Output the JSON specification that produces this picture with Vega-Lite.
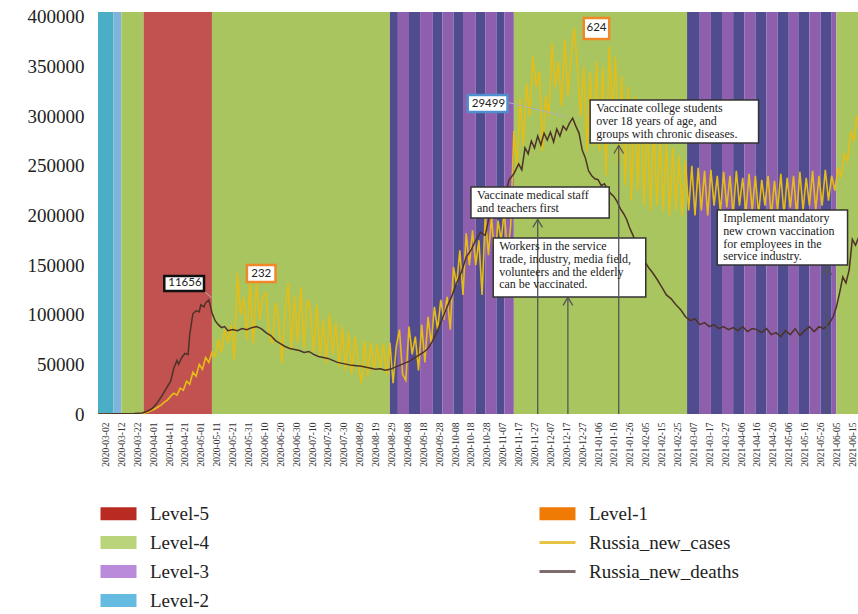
{
  "$schema": "https://vega.github.io/schema/vega-lite/v6.json",
  "width": 760,
  "height": 402,
  "autosize": {"type": "none"},
  "padding": {"left": 98, "top": 12, "right": 0, "bottom": 200},
  "background": "white",
  "config": {"view": {"stroke": null}, "axis": {"labelOverlap": false}, "axisX": {"labelOverlap": false, "labelBound": false}},
  "datasets": {
    "bands": [
      {"start":"2020-02-20","end":"2020-03-07","level":"Level-2"},
      {"start":"2020-03-07","end":"2020-03-12","level":"Level-2b"},
      {"start":"2020-03-12","end":"2020-03-26","level":"Level-4"},
      {"start":"2020-03-26","end":"2020-05-08","level":"Level-5"},
      {"start":"2020-05-08","end":"2020-08-28","level":"Level-4"},
      {"start":"2020-08-28","end":"2020-09-02","level":"Level-3b"},
      {"start":"2020-09-02","end":"2020-09-09","level":"Level-3"},
      {"start":"2020-09-09","end":"2020-09-16","level":"Level-3b"},
      {"start":"2020-09-16","end":"2020-09-24","level":"Level-3"},
      {"start":"2020-09-24","end":"2020-09-30","level":"Level-3b"},
      {"start":"2020-09-30","end":"2020-10-07","level":"Level-3"},
      {"start":"2020-10-07","end":"2020-10-13","level":"Level-3b"},
      {"start":"2020-10-13","end":"2020-10-21","level":"Level-3"},
      {"start":"2020-10-21","end":"2020-10-27","level":"Level-3b"},
      {"start":"2020-10-27","end":"2020-11-03","level":"Level-3"},
      {"start":"2020-11-03","end":"2020-11-08","level":"Level-3b"},
      {"start":"2020-11-08","end":"2020-11-14","level":"Level-3"},
      {"start":"2020-11-14","end":"2021-03-03","level":"Level-4"},
      {"start":"2021-03-03","end":"2021-03-11","level":"Level-3b"},
      {"start":"2021-03-11","end":"2021-03-18","level":"Level-3"},
      {"start":"2021-03-18","end":"2021-03-25","level":"Level-3b"},
      {"start":"2021-03-25","end":"2021-04-01","level":"Level-3"},
      {"start":"2021-04-01","end":"2021-04-08","level":"Level-3b"},
      {"start":"2021-04-08","end":"2021-04-15","level":"Level-3"},
      {"start":"2021-04-15","end":"2021-04-22","level":"Level-3b"},
      {"start":"2021-04-22","end":"2021-04-29","level":"Level-3"},
      {"start":"2021-04-29","end":"2021-05-06","level":"Level-3b"},
      {"start":"2021-05-06","end":"2021-05-12","level":"Level-3"},
      {"start":"2021-05-12","end":"2021-05-19","level":"Level-3b"},
      {"start":"2021-05-19","end":"2021-05-26","level":"Level-3"},
      {"start":"2021-05-26","end":"2021-06-02","level":"Level-3b"},
      {"start":"2021-06-02","end":"2021-06-05","level":"Level-3"},
      {"start":"2021-06-05","end":"2021-06-25","level":"Level-4"}
    ],
    "cases": [
      {"date":"2020-02-26","value":0},{"date":"2020-03-10","value":0},{"date":"2020-03-23","value":0},
      {"date":"2020-03-25","value":500},{"date":"2020-03-27","value":1000},{"date":"2020-03-29","value":2000},
      {"date":"2020-03-31","value":3500},{"date":"2020-04-02","value":5000},{"date":"2020-04-04","value":7000},
      {"date":"2020-04-06","value":9000},{"date":"2020-04-08","value":12000},{"date":"2020-04-10","value":14000},
      {"date":"2020-04-12","value":18000},{"date":"2020-04-14","value":21000},{"date":"2020-04-16","value":19000},
      {"date":"2020-04-18","value":26000},{"date":"2020-04-20","value":24000},{"date":"2020-04-22","value":33000},
      {"date":"2020-04-24","value":30000},{"date":"2020-04-26","value":42000},{"date":"2020-04-28","value":38000},
      {"date":"2020-04-30","value":50000},{"date":"2020-05-02","value":45000},{"date":"2020-05-04","value":57000},
      {"date":"2020-05-06","value":52000},{"date":"2020-05-08","value":62000},{"date":"2020-05-10","value":58000},
      {"date":"2020-05-12","value":75000},{"date":"2020-05-14","value":62000},{"date":"2020-05-16","value":85000},
      {"date":"2020-05-18","value":72000},{"date":"2020-05-20","value":90000},{"date":"2020-05-22","value":54000},
      {"date":"2020-05-24","value":142000},{"date":"2020-05-26","value":100000},{"date":"2020-05-28","value":118000},
      {"date":"2020-05-30","value":75000},{"date":"2020-06-01","value":135000},{"date":"2020-06-03","value":71000},
      {"date":"2020-06-05","value":132000},{"date":"2020-06-07","value":95000},{"date":"2020-06-09","value":118000},
      {"date":"2020-06-11","value":122000},{"date":"2020-06-13","value":80000},{"date":"2020-06-15","value":71000},
      {"date":"2020-06-17","value":112000},{"date":"2020-06-19","value":92000},{"date":"2020-06-21","value":51000},
      {"date":"2020-06-23","value":102000},{"date":"2020-06-25","value":132000},{"date":"2020-06-27","value":65000},
      {"date":"2020-06-29","value":119000},{"date":"2020-07-01","value":72000},{"date":"2020-07-03","value":128000},
      {"date":"2020-07-05","value":66000},{"date":"2020-07-07","value":115000},{"date":"2020-07-09","value":105000},
      {"date":"2020-07-11","value":62000},{"date":"2020-07-13","value":110000},{"date":"2020-07-15","value":58000},
      {"date":"2020-07-17","value":95000},{"date":"2020-07-19","value":51000},{"date":"2020-07-21","value":101000},
      {"date":"2020-07-23","value":60000},{"date":"2020-07-25","value":92000},{"date":"2020-07-27","value":48000},
      {"date":"2020-07-29","value":88000},{"date":"2020-07-31","value":44000},{"date":"2020-08-02","value":82000},
      {"date":"2020-08-04","value":40000},{"date":"2020-08-06","value":78000},{"date":"2020-08-08","value":52000},
      {"date":"2020-08-10","value":31000},{"date":"2020-08-12","value":74000},{"date":"2020-08-14","value":38000},
      {"date":"2020-08-16","value":72000},{"date":"2020-08-18","value":44000},{"date":"2020-08-20","value":70000},
      {"date":"2020-08-22","value":46000},{"date":"2020-08-24","value":71000},{"date":"2020-08-26","value":40000},
      {"date":"2020-08-28","value":72000},{"date":"2020-08-30","value":31000},{"date":"2020-09-01","value":68000},
      {"date":"2020-09-03","value":85000},{"date":"2020-09-05","value":40000},{"date":"2020-09-07","value":34000},
      {"date":"2020-09-09","value":88000},{"date":"2020-09-11","value":60000},{"date":"2020-09-13","value":78000},
      {"date":"2020-09-15","value":44000},{"date":"2020-09-17","value":90000},{"date":"2020-09-19","value":52000},
      {"date":"2020-09-21","value":98000},{"date":"2020-09-23","value":70000},{"date":"2020-09-25","value":108000},
      {"date":"2020-09-27","value":85000},{"date":"2020-09-29","value":115000},{"date":"2020-10-01","value":95000},
      {"date":"2020-10-03","value":118000},{"date":"2020-10-05","value":85000},{"date":"2020-10-07","value":148000},
      {"date":"2020-10-09","value":130000},{"date":"2020-10-11","value":165000},{"date":"2020-10-13","value":120000},
      {"date":"2020-10-15","value":182000},{"date":"2020-10-17","value":150000},{"date":"2020-10-19","value":185000},
      {"date":"2020-10-21","value":150000},{"date":"2020-10-23","value":175000},{"date":"2020-10-25","value":120000},
      {"date":"2020-10-27","value":199000},{"date":"2020-10-29","value":160000},{"date":"2020-10-31","value":200000},
      {"date":"2020-11-02","value":150000},{"date":"2020-11-04","value":195000},{"date":"2020-11-06","value":175000},
      {"date":"2020-11-08","value":205000},{"date":"2020-11-10","value":160000},{"date":"2020-11-12","value":190000},
      {"date":"2020-11-14","value":285000},{"date":"2020-11-16","value":250000},{"date":"2020-11-18","value":318000},
      {"date":"2020-11-20","value":270000},{"date":"2020-11-22","value":333000},{"date":"2020-11-24","value":300000},
      {"date":"2020-11-26","value":360000},{"date":"2020-11-28","value":330000},{"date":"2020-11-30","value":345000},
      {"date":"2020-12-02","value":265000},{"date":"2020-12-04","value":320000},{"date":"2020-12-06","value":300000},
      {"date":"2020-12-08","value":374000},{"date":"2020-12-10","value":330000},{"date":"2020-12-12","value":355000},
      {"date":"2020-12-14","value":310000},{"date":"2020-12-16","value":377000},{"date":"2020-12-18","value":320000},
      {"date":"2020-12-20","value":360000},{"date":"2020-12-22","value":389000},{"date":"2020-12-24","value":350000},
      {"date":"2020-12-26","value":300000},{"date":"2020-12-28","value":350000},{"date":"2020-12-30","value":265000},
      {"date":"2021-01-01","value":345000},{"date":"2021-01-03","value":270000},{"date":"2021-01-05","value":355000},
      {"date":"2021-01-07","value":265000},{"date":"2021-01-09","value":350000},{"date":"2021-01-11","value":240000},
      {"date":"2021-01-13","value":370000},{"date":"2021-01-15","value":300000},{"date":"2021-01-17","value":360000},
      {"date":"2021-01-19","value":250000},{"date":"2021-01-21","value":340000},{"date":"2021-01-23","value":230000},
      {"date":"2021-01-25","value":330000},{"date":"2021-01-27","value":215000},{"date":"2021-01-29","value":320000},
      {"date":"2021-01-31","value":225000},{"date":"2021-02-02","value":315000},{"date":"2021-02-04","value":210000},
      {"date":"2021-02-06","value":300000},{"date":"2021-02-08","value":205000},{"date":"2021-02-10","value":290000},
      {"date":"2021-02-12","value":210000},{"date":"2021-02-14","value":280000},{"date":"2021-02-16","value":205000},
      {"date":"2021-02-18","value":275000},{"date":"2021-02-20","value":200000},{"date":"2021-02-22","value":268000},
      {"date":"2021-02-24","value":205000},{"date":"2021-02-26","value":260000},{"date":"2021-02-28","value":200000},
      {"date":"2021-03-02","value":255000},{"date":"2021-03-04","value":205000},{"date":"2021-03-06","value":250000},
      {"date":"2021-03-08","value":200000},{"date":"2021-03-10","value":248000},{"date":"2021-03-12","value":205000},
      {"date":"2021-03-14","value":245000},{"date":"2021-03-16","value":200000},{"date":"2021-03-18","value":246000},
      {"date":"2021-03-20","value":210000},{"date":"2021-03-22","value":240000},{"date":"2021-03-24","value":203000},
      {"date":"2021-03-26","value":244000},{"date":"2021-03-28","value":208000},{"date":"2021-03-30","value":240000},
      {"date":"2021-04-01","value":200000},{"date":"2021-04-03","value":245000},{"date":"2021-04-05","value":210000},
      {"date":"2021-04-07","value":238000},{"date":"2021-04-09","value":202000},{"date":"2021-04-11","value":242000},
      {"date":"2021-04-13","value":205000},{"date":"2021-04-15","value":240000},{"date":"2021-04-17","value":200000},
      {"date":"2021-04-19","value":236000},{"date":"2021-04-21","value":210000},{"date":"2021-04-23","value":240000},
      {"date":"2021-04-25","value":198000},{"date":"2021-04-27","value":235000},{"date":"2021-04-29","value":205000},
      {"date":"2021-05-01","value":242000},{"date":"2021-05-03","value":200000},{"date":"2021-05-05","value":238000},
      {"date":"2021-05-07","value":208000},{"date":"2021-05-09","value":240000},{"date":"2021-05-11","value":200000},
      {"date":"2021-05-13","value":244000},{"date":"2021-05-15","value":205000},{"date":"2021-05-17","value":238000},
      {"date":"2021-05-19","value":210000},{"date":"2021-05-21","value":245000},{"date":"2021-05-23","value":205000},
      {"date":"2021-05-25","value":240000},{"date":"2021-05-27","value":210000},{"date":"2021-05-29","value":246000},
      {"date":"2021-05-31","value":215000},{"date":"2021-06-02","value":240000},{"date":"2021-06-04","value":225000},
      {"date":"2021-06-06","value":248000},{"date":"2021-06-08","value":238000},{"date":"2021-06-10","value":262000},
      {"date":"2021-06-12","value":255000},{"date":"2021-06-14","value":285000},{"date":"2021-06-16","value":275000},
      {"date":"2021-06-18","value":300000},{"date":"2021-06-20","value":290000}
    ],
    "deaths": [
      {"date":"2020-02-26","value":0},{"date":"2020-03-10","value":200},{"date":"2020-03-20","value":500},
      {"date":"2020-03-25","value":1000},{"date":"2020-03-28","value":2500},{"date":"2020-03-31","value":5000},
      {"date":"2020-04-03","value":10000},{"date":"2020-04-06","value":17000},{"date":"2020-04-09","value":25000},
      {"date":"2020-04-12","value":33000},{"date":"2020-04-14","value":46000},{"date":"2020-04-16","value":54000},
      {"date":"2020-04-17","value":50000},{"date":"2020-04-19","value":57000},{"date":"2020-04-21","value":61000},
      {"date":"2020-04-23","value":60000},{"date":"2020-04-24","value":80000},{"date":"2020-04-26","value":101000},
      {"date":"2020-04-28","value":104000},{"date":"2020-04-30","value":103000},{"date":"2020-05-01","value":110000},
      {"date":"2020-05-03","value":108000},{"date":"2020-05-04","value":112000},{"date":"2020-05-06","value":115000},
      {"date":"2020-05-07","value":109000},{"date":"2020-05-08","value":102000},{"date":"2020-05-10","value":94000},
      {"date":"2020-05-12","value":90000},{"date":"2020-05-14","value":87000},{"date":"2020-05-16","value":88000},
      {"date":"2020-05-18","value":84000},{"date":"2020-05-21","value":85000},{"date":"2020-05-24","value":84000},
      {"date":"2020-05-27","value":86000},{"date":"2020-05-30","value":85000},{"date":"2020-06-02","value":87000},
      {"date":"2020-06-05","value":88000},{"date":"2020-06-08","value":86000},{"date":"2020-06-11","value":82000},
      {"date":"2020-06-14","value":79000},{"date":"2020-06-17","value":74000},{"date":"2020-06-20","value":71000},
      {"date":"2020-06-23","value":68000},{"date":"2020-06-26","value":66000},{"date":"2020-06-29","value":65000},
      {"date":"2020-07-02","value":64000},{"date":"2020-07-05","value":62000},{"date":"2020-07-08","value":63000},
      {"date":"2020-07-11","value":60000},{"date":"2020-07-14","value":58000},{"date":"2020-07-17","value":57000},
      {"date":"2020-07-20","value":56000},{"date":"2020-07-23","value":54000},{"date":"2020-07-26","value":52000},
      {"date":"2020-07-29","value":51000},{"date":"2020-08-01","value":50000},{"date":"2020-08-04","value":49000},
      {"date":"2020-08-07","value":48500},{"date":"2020-08-10","value":48000},{"date":"2020-08-13","value":47000},
      {"date":"2020-08-16","value":46000},{"date":"2020-08-19","value":45000},{"date":"2020-08-22","value":45500},
      {"date":"2020-08-25","value":44000},{"date":"2020-08-28","value":45000},{"date":"2020-08-31","value":47000},
      {"date":"2020-09-03","value":49000},{"date":"2020-09-06","value":51000},{"date":"2020-09-09","value":53000},
      {"date":"2020-09-12","value":56000},{"date":"2020-09-15","value":59000},{"date":"2020-09-18","value":62000},
      {"date":"2020-09-21","value":66000},{"date":"2020-09-24","value":74000},{"date":"2020-09-27","value":84000},
      {"date":"2020-09-30","value":96000},{"date":"2020-10-03","value":108000},{"date":"2020-10-06","value":119000},
      {"date":"2020-10-09","value":132000},{"date":"2020-10-12","value":143000},{"date":"2020-10-15","value":158000},
      {"date":"2020-10-18","value":165000},{"date":"2020-10-21","value":175000},{"date":"2020-10-24","value":183000},
      {"date":"2020-10-27","value":180000},{"date":"2020-10-30","value":203000},{"date":"2020-11-02","value":198000},
      {"date":"2020-11-05","value":222000},{"date":"2020-11-08","value":218000},{"date":"2020-11-11","value":236000},
      {"date":"2020-11-14","value":242000},{"date":"2020-11-17","value":252000},{"date":"2020-11-19","value":246000},
      {"date":"2020-11-21","value":268000},{"date":"2020-11-23","value":262000},{"date":"2020-11-25","value":275000},
      {"date":"2020-11-27","value":268000},{"date":"2020-11-29","value":280000},{"date":"2020-12-01","value":271000},
      {"date":"2020-12-03","value":283000},{"date":"2020-12-05","value":276000},{"date":"2020-12-07","value":284000},
      {"date":"2020-12-09","value":274000},{"date":"2020-12-11","value":287000},{"date":"2020-12-13","value":280000},
      {"date":"2020-12-15","value":290000},{"date":"2020-12-17","value":286000},{"date":"2020-12-19","value":293000},
      {"date":"2020-12-21","value":298000},{"date":"2020-12-23","value":290000},{"date":"2020-12-25","value":283000},
      {"date":"2020-12-27","value":266000},{"date":"2020-12-29","value":258000},{"date":"2020-12-31","value":245000},
      {"date":"2021-01-02","value":240000},{"date":"2021-01-04","value":237000},{"date":"2021-01-06","value":236000},
      {"date":"2021-01-08","value":230000},{"date":"2021-01-10","value":232000},{"date":"2021-01-12","value":226000},
      {"date":"2021-01-14","value":222000},{"date":"2021-01-16","value":219000},{"date":"2021-01-18","value":214000},
      {"date":"2021-01-20","value":207000},{"date":"2021-01-22","value":202000},{"date":"2021-01-24","value":196000},
      {"date":"2021-01-26","value":187000},{"date":"2021-01-28","value":180000},{"date":"2021-01-30","value":171000},
      {"date":"2021-02-01","value":164000},{"date":"2021-02-03","value":158000},{"date":"2021-02-05","value":152000},
      {"date":"2021-02-07","value":147000},{"date":"2021-02-09","value":143000},{"date":"2021-02-12","value":136000},
      {"date":"2021-02-15","value":128000},{"date":"2021-02-18","value":120000},{"date":"2021-02-21","value":116000},
      {"date":"2021-02-24","value":110000},{"date":"2021-02-27","value":105000},{"date":"2021-03-02","value":98000},
      {"date":"2021-03-05","value":94000},{"date":"2021-03-08","value":96000},{"date":"2021-03-11","value":90000},
      {"date":"2021-03-14","value":92000},{"date":"2021-03-17","value":88000},{"date":"2021-03-20","value":90000},
      {"date":"2021-03-23","value":86000},{"date":"2021-03-26","value":88000},{"date":"2021-03-29","value":85000},
      {"date":"2021-04-01","value":87000},{"date":"2021-04-04","value":84000},{"date":"2021-04-07","value":88000},
      {"date":"2021-04-10","value":83000},{"date":"2021-04-13","value":86000},{"date":"2021-04-16","value":85000},
      {"date":"2021-04-19","value":82000},{"date":"2021-04-22","value":86000},{"date":"2021-04-25","value":80000},
      {"date":"2021-04-28","value":82000},{"date":"2021-05-01","value":78000},{"date":"2021-05-04","value":84000},
      {"date":"2021-05-07","value":80000},{"date":"2021-05-10","value":86000},{"date":"2021-05-13","value":79000},
      {"date":"2021-05-16","value":84000},{"date":"2021-05-19","value":88000},{"date":"2021-05-22","value":83000},
      {"date":"2021-05-25","value":88000},{"date":"2021-05-28","value":86000},{"date":"2021-05-31","value":90000},
      {"date":"2021-06-03","value":98000},{"date":"2021-06-05","value":108000},{"date":"2021-06-07","value":122000},
      {"date":"2021-06-09","value":138000},{"date":"2021-06-11","value":132000},{"date":"2021-06-13","value":145000},
      {"date":"2021-06-15","value":176000},{"date":"2021-06-17","value":170000},{"date":"2021-06-19","value":178000}
    ],
    "peaks": [
      {"label":"11656","series":"cases-1","x1":"2020-04-08","x2":"2020-05-03","y1":124000,"y2":139000,"xc":"2020-04-21","yc":131500},
      {"label":"232","series":"deaths","x1":"2020-05-30","x2":"2020-06-17","y1":133000,"y2":150100,"xc":"2020-06-08","yc":141500},
      {"label":"29499","series":"cases-2","x1":"2020-10-16","x2":"2020-11-10","y1":304300,"y2":321400,"xc":"2020-10-29","yc":312800},
      {"label":"624","series":"deaths","x1":"2020-12-28","x2":"2021-01-13","y1":377800,"y2":399000,"xc":"2021-01-05","yc":388400}
    ],
    "leaders": [
      {"x1":"2020-05-02","y1":125000,"x2":"2020-05-08","y2":117000},
      {"x1":"2020-11-10","y1":314000,"x2":"2020-12-17","y2":299500}
    ],
    "notes": [
      {"t":"Vaccinate medical staff\nand teachers first","x1":"2020-10-18","x2":"2021-01-13","y1":197500,"y2":228700},
      {"t":"Workers in the service\ntrade, industry, media field,\nvolunteers and the elderly\ncan be vaccinated.","x1":"2020-11-01","x2":"2021-02-05","y1":117900,"y2":177300},
      {"t":"Vaccinate college students\nover 18 years of age, and\ngroups with chronic diseases.","x1":"2021-01-01","x2":"2021-04-17","y1":273000,"y2":316400},
      {"t":"Implement mandatory\nnew crown vaccination\nfor employees in the\nservice industry.","x1":"2021-03-22","x2":"2021-06-12","y1":150100,"y2":205500}
    ],
    "arrows": [
      {"x":"2020-11-29","top":196000,"base":0},
      {"x":"2020-12-18","top":117500,"base":0},
      {"x":"2021-01-19","top":270500,"base":0},
      {"x":"2021-05-30","top":148500,"base":0}
    ],
    "legend": [
      {"item":"Level-5"},{"item":"Level-4"},{"item":"Level-3"},{"item":"Level-2"},
      {"item":"Level-1"},{"item":"Russia_new_cases"},{"item":"Russia_new_deaths"}
    ]
  },
  "layer": [
    {
      "data": {"name": "bands"},
      "mark": {"type": "rect", "clip": true},
      "encoding": {
        "x": {
          "field": "start", "type": "temporal", "title": null,
          "scale": {"type": "utc", "domain": [1582700000000, 1624024000000], "nice": false},
          "axis": {
            "values": [1583107200000,1583971200000,1584835200000,1585699200000,1586563200000,1587427200000,1588291200000,1589155200000,1590019200000,1590883200000,1591747200000,1592611200000,1593475200000,1594339200000,1595203200000,1596067200000,1596931200000,1597795200000,1598659200000,1599523200000,1600387200000,1601251200000,1602115200000,1602979200000,1603843200000,1604707200000,1605571200000,1606435200000,1607299200000,1608163200000,1609027200000,1609891200000,1610755200000,1611619200000,1612483200000,1613347200000,1614211200000,1615075200000,1615939200000,1616803200000,1617667200000,1618531200000,1619395200000,1620259200000,1621123200000,1621987200000,1622851200000,1623715200000],
            "tickCount": 200,
            "labelExpr": "utcFormat(datum.value, '%Y-%m-%d')",
            "labelAngle": 270,
            "labelFont": "Liberation Serif",
            "labelFontSize": 9.5,
            "labelColor": "#333333",
            "labelPadding": 8,
            "labelOverlap": false,
            "labelFlush": false,
            "labelBound": false,
            "labelSeparation": 0,
            "ticks": false,
            "domain": false,
            "grid": false
          }
        },
        "x2": {"field": "end"},
        "fill": {
          "field": "level", "type": "nominal", "legend": null,
          "scale": {
            "domain": ["Level-2","Level-2b","Level-4","Level-5","Level-3","Level-3b"],
            "range": ["#4aaec7","#7fb4da","#a9c55f","#c1524f","#8d5fad","#514b8f"]
          }
        }
      }
    },
    {
      "data": {"name": "cases"},
      "mark": {"type": "line", "color": "#e6bd16", "strokeWidth": 1.6, "clip": true},
      "encoding": {
        "x": {"field": "date", "type": "temporal", "title": null},
        "y": {
          "field": "value", "type": "quantitative", "title": null,
          "scale": {"domain": [0, 405000], "nice": false, "zero": true},
          "axis": {
            "values": [0,50000,100000,150000,200000,250000,300000,350000,400000],
            "format": "d",
            "labelFont": "Liberation Serif",
            "labelFontSize": 19,
            "labelColor": "#222222",
            "labelPadding": 14,
            "ticks": false,
            "domain": false,
            "grid": false
          }
        }
      }
    },
    {
      "data": {"name": "deaths"},
      "mark": {"type": "line", "color": "#4e3228", "strokeWidth": 1.5, "clip": true},
      "encoding": {
        "x": {"field": "date", "type": "temporal", "title": null},
        "y": {"field": "value", "type": "quantitative", "title": null}
      }
    },
    {
      "data": {"name": "leaders"},
      "mark": {"type": "rule", "color": "#b0b0b0", "strokeWidth": 1},
      "encoding": {
        "x": {"field": "x1", "type": "temporal", "title": null},
        "x2": {"field": "x2"},
        "y": {"field": "y1", "type": "quantitative", "title": null},
        "y2": {"field": "y2"}
      }
    },
    {
      "data": {"name": "peaks"},
      "mark": {"type": "rect", "fill": "white", "strokeWidth": 2.5},
      "encoding": {
        "x": {"field": "x1", "type": "temporal", "title": null},
        "x2": {"field": "x2"},
        "y": {"field": "y1", "type": "quantitative", "title": null},
        "y2": {"field": "y2"},
        "stroke": {
          "field": "series", "type": "nominal", "legend": null,
          "scale": {"domain": ["cases-1","cases-2","deaths"], "range": ["#111111","#4f8fd0","#f0882a"]}
        }
      }
    },
    {
      "data": {"name": "peaks"},
      "mark": {"type": "text", "font": "Lato", "fontSize": 11.5, "color": "#222222", "align": "center", "baseline": "middle"},
      "encoding": {
        "x": {"field": "xc", "type": "temporal", "title": null},
        "y": {"field": "yc", "type": "quantitative", "title": null},
        "text": {"field": "label", "type": "nominal"}
      }
    },
    {
      "data": {"name": "notes"},
      "mark": {"type": "rect", "fill": "white", "stroke": "#333333", "strokeWidth": 1.5},
      "encoding": {
        "x": {"field": "x1", "type": "temporal", "title": null},
        "x2": {"field": "x2"},
        "y": {"field": "y1", "type": "quantitative", "title": null},
        "y2": {"field": "y2"}
      }
    },
    {
      "data": {"name": "arrows"},
      "mark": {"type": "rule", "color": "#555555", "strokeWidth": 1.3},
      "encoding": {
        "x": {"field": "x", "type": "temporal", "title": null},
        "y": {"field": "base", "type": "quantitative", "title": null},
        "y2": {"field": "top"}
      }
    },
    {
      "data": {"name": "arrows"},
      "mark": {"type": "point", "shape": "M-1.2,2L0,0L1.2,2", "filled": false, "size": 64, "stroke": "#555555", "strokeWidth": 1.3, "opacity": 1},
      "encoding": {
        "x": {"field": "x", "type": "temporal", "title": null},
        "y": {"field": "top", "type": "quantitative", "title": null}
      }
    },
    {
      "data": {"name": "notes"},
      "mark": {"type": "text", "font": "Liberation Serif", "fontSize": 12, "lineHeight": 12.8, "lineBreak": "\n", "color": "#222222", "align": "left", "baseline": "top", "dx": 6, "dy": 3},
      "encoding": {
        "x": {"field": "x1", "type": "temporal", "title": null},
        "y": {"field": "y2", "type": "quantitative", "title": null},
        "text": {"field": "t", "type": "nominal"}
      }
    },
    {
      "data": {"name": "legend"},
      "mark": {"type": "square", "opacity": 0},
      "encoding": {
        "color": {
          "field": "item", "type": "nominal",
          "scale": {
            "domain": ["Level-5","Level-4","Level-3","Level-2","Level-1","Russia_new_cases","Russia_new_deaths"],
            "range": ["#b92b22","#bad47c","#b98bda","#66bce0","#ef7b05","#e6c544","#7d6d6d"]
          },
          "legend": {
            "title": null,
            "orient": "none",
            "legendX": 11,
            "legendY": 492,
            "columns": 2,
            "columnPadding": 323,
            "rowPadding": 9,
            "padding": 0,
            "symbolSize": 400,
            "symbolOpacity": 1,
            "labelFont": "Liberation Serif",
            "labelFontSize": 19,
            "labelColor": "#222222",
            "labelOffset": 22,
            "labelLimit": 400,
            "encode": {
              "symbols": {
                "update": {
                  "shape": {"signal": "indexof(['Russia_new_cases','Russia_new_deaths'], datum.value) >= 0 ? 'M-1.8,0H1.8' : 'M-1.8,-0.65H1.8V0.65H-1.8Z'"},
                  "fill": {"signal": "indexof(['Russia_new_cases','Russia_new_deaths'], datum.value) >= 0 ? 'transparent' : scale('color', datum.value)"},
                  "stroke": {"signal": "scale('color', datum.value)"},
                  "strokeWidth": {"signal": "indexof(['Russia_new_cases','Russia_new_deaths'], datum.value) >= 0 ? 3 : 0"},
                  "opacity": {"value": 1}
                }
              }
            }
          }
        }
      }
    }
  ]
}
